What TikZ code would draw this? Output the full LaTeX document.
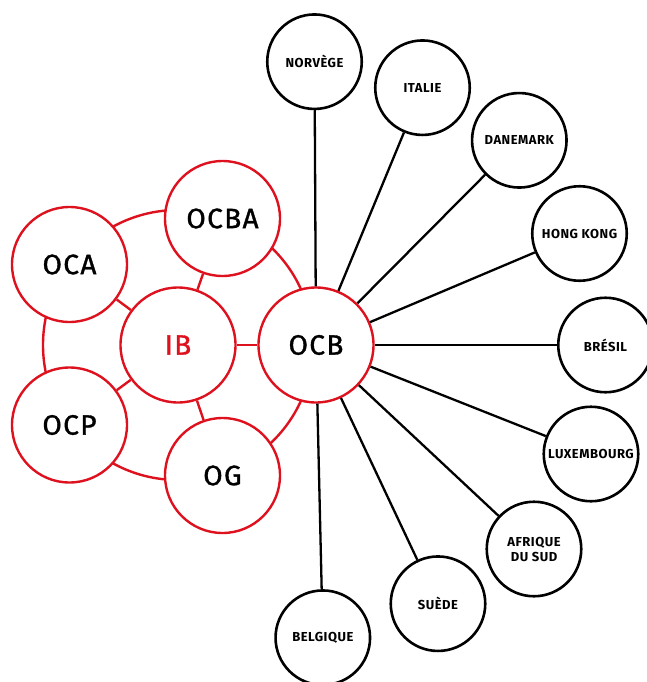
\documentclass[tikz,border=0pt]{standalone}
\usepackage{fontspec}
\setmainfont{Fira Sans}
\usepackage{tikz}
\usetikzlibrary{backgrounds}
\usepackage{xcolor}
\definecolor{ibred}{RGB}{222,18,30}

\begin{document}
\begin{tikzpicture}[x=1pt, y=-1pt,
    group/.style={circle, draw=ibred, line width=2.4pt, fill=white,
      minimum size=115pt, inner sep=0pt,
      font=\fontsize{28}{30}\selectfont\addfontfeatures{LetterSpace=5,FakeBold=1.2}},
    country/.style={circle, draw=black, line width=2.6pt, fill=white,
      minimum size=94.5pt, inner sep=0pt, align=center,
      font=\bfseries\fontsize{13}{15}\selectfont\addfontfeatures{LetterSpace=4}},
    redlink/.style={draw=ibred, line width=2.4pt},
    blacklink/.style={draw=black, line width=2.3pt}]
  \useasboundingbox (0,0) rectangle (646,682);
  % Red sections
  \node[group, text=ibred] (IB) at (178,345) {IB};
  \node[group] (OCBA) at (222.5,218.5) {OCBA};
  \node[group] (OCA) at (69.5,264.5) {OCA};
  \node[group] (OCP) at (69.5,425) {OCP};
  \node[group] (OG) at (222.5,475.5) {OG};
  \node[group] (OCB) at (316,345) {OCB};
  % Ring and spokes
  \begin{scope}[on background layer]
    \draw[redlink] (IB.center) circle (135pt);
  \end{scope}
  \foreach \g in {OCBA,OCA,OCP,OG,OCB}
    \draw[redlink] (IB) -- (\g);
  % Partner sections
  \node[country] (norvege) at (314.5,61.7) {NORVÈGE};
  \node[country] (italie) at (422.5,87.7) {ITALIE};
  \node[country] (danemark) at (519.3,140.3) {DANEMARK};
  \node[country] (hongkong) at (579.5,233.5) {HONG KONG};
  \node[country] (bresil) at (605.5,345) {BRÉSIL};
  \node[country] (luxembourg) at (591,454) {LUXEMBOURG};
  \node[country] (afrique) at (534,549) {AFRIQUE\\DU SUD};
  \node[country] (suede) at (438,603.7) {SUÈDE};
  \node[country] (belgique) at (322.8,637.7) {BELGIQUE};
  % Links from OCB
  \foreach \c in {norvege,italie,danemark,hongkong,bresil,luxembourg,afrique,suede,belgique}
    \draw[blacklink] (OCB) -- (\c);
\end{tikzpicture}
\end{document}
